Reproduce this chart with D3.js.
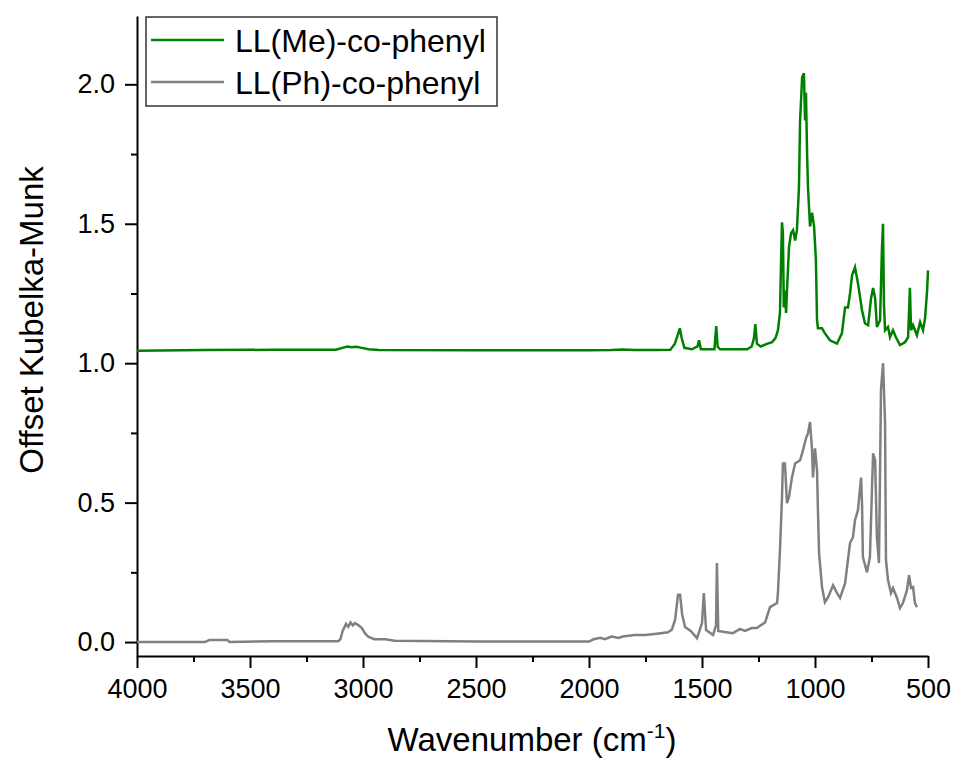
<!DOCTYPE html>
<meta charset="utf-8">
<style>
body { margin: 0; background: #fff; }
svg { font-family: Arial, "Liberation Sans", sans-serif; }
.axis path, .axis line { fill: none; stroke: #000; stroke-width: 2; }
.axis text { font-size: 27px; fill: #000; }
.title { font-size: 33px; fill: #000; }
.legend text { font-size: 32px; fill: #000; }
</style>
<body>
<svg></svg>
<script src="https://d3js.org/d3.v7.min.js"></script>
<script>

// spectrum 1 : LL(Me)-co-phenyl, offset +1.05
var meWave = [4000, 3800, 3700, 3400, 3120, 3095, 3070, 3050, 3030, 3005, 2975, 2930, 2500, 2000, 1900, 1850, 1800, 1700,
  1640, 1620, 1608, 1598, 1590, 1578, 1545, 1520, 1513, 1505, 1445, 1437, 1431, 1420, 1300, 1280, 1270, 1264, 1257, 1240,
  1210, 1190, 1175, 1164, 1155, 1150, 1146, 1142, 1138, 1133, 1128, 1124, 1115, 1106, 1097, 1088, 1080, 1071, 1066, 1057,
  1049, 1044, 1040, 1035, 1031, 1022, 1013, 1004, 996, 991, 987, 969, 956, 934, 903, 881, 867, 854, 845, 836, 823, 810,
  792, 779, 765, 752, 743, 734, 726, 712, 704, 699, 695, 690, 677, 668, 655, 642, 624, 602, 588, 580, 575, 566, 549,
  535, 522, 513, 504, 500];
var meVal = [1.045, 1.046, 1.047, 1.048, 1.048, 1.054, 1.06, 1.057, 1.059, 1.055, 1.05, 1.047, 1.046, 1.046, 1.047, 1.049, 1.047, 1.047,
  1.048, 1.07, 1.10, 1.125, 1.09, 1.055, 1.05, 1.06, 1.082, 1.05, 1.05, 1.133, 1.06, 1.05, 1.05, 1.06, 1.09, 1.14, 1.07, 1.06,
  1.07, 1.075, 1.09, 1.118, 1.18, 1.37, 1.505, 1.466, 1.2, 1.26, 1.18, 1.26, 1.416, 1.466, 1.477, 1.44, 1.477, 1.63, 1.87, 2.025,
  2.04, 1.87, 1.97, 1.75, 1.63, 1.49, 1.54, 1.49, 1.37, 1.154, 1.125, 1.125, 1.107, 1.082, 1.07, 1.107, 1.2, 1.2, 1.25, 1.315, 1.344, 1.287,
  1.19, 1.143, 1.136, 1.233, 1.27, 1.233, 1.13, 1.154, 1.405, 1.5, 1.215, 1.118, 1.13, 1.093, 1.118, 1.093, 1.065, 1.075, 1.093, 1.27, 1.118, 1.136, 1.1,
  1.147, 1.118, 1.161, 1.26, 1.333];

// spectrum 2 : LL(Ph)-co-phenyl
var phWave = [4000, 3700, 3680, 3600, 3590, 3400, 3110, 3100, 3090, 3075, 3065, 3055, 3045, 3035, 3020, 3005, 2990, 2975, 2950,
  2900, 2860, 2500, 2000, 1980, 1950, 1930, 1900, 1870, 1850, 1800, 1750, 1700, 1650, 1633, 1619, 1606, 1597, 1588, 1575,
  1550, 1522, 1500, 1492, 1482, 1451, 1438, 1434, 1428, 1400, 1363, 1332, 1310, 1280, 1257, 1240, 1221, 1199, 1168, 1164,
  1155, 1146, 1142, 1133, 1124, 1115, 1102, 1088, 1066, 1053, 1040, 1031, 1022, 1013, 1009, 1000, 991, 987, 982, 969, 956,
  942, 920, 903, 889, 867, 845, 832, 823, 810, 796, 792, 788, 770, 757, 748, 743, 734, 726, 717, 708, 699, 690, 686, 677,
  664, 655, 637, 624, 611, 593, 584, 575, 566, 558, 549];
var phVal = [0.0, 0.0, 0.007, 0.007, 0.0, 0.003, 0.003, 0.01, 0.04, 0.065, 0.055, 0.07, 0.06, 0.068, 0.06, 0.05, 0.03, 0.018, 0.01,
  0.01, 0.005, 0.002, 0.002, 0.01, 0.015, 0.01, 0.02, 0.015, 0.02, 0.025, 0.025, 0.03, 0.035, 0.045, 0.08, 0.17, 0.17, 0.1, 0.054,
  0.04, 0.014, 0.068, 0.176, 0.043, 0.025, 0.06, 0.283, 0.04, 0.036, 0.032, 0.047, 0.04, 0.05, 0.05, 0.06, 0.07, 0.125, 0.14, 0.176,
  0.33, 0.52, 0.64, 0.64, 0.498, 0.52, 0.59, 0.64, 0.652, 0.688, 0.73, 0.749, 0.789, 0.688, 0.59, 0.695, 0.616, 0.473, 0.319, 0.197, 0.143,
  0.161, 0.204, 0.176, 0.158, 0.21, 0.355, 0.376, 0.437, 0.473, 0.59, 0.498, 0.305, 0.25, 0.305, 0.545, 0.677, 0.652, 0.376, 0.283, 0.903, 1.0, 0.785, 0.294, 0.222,
  0.176, 0.194, 0.158, 0.122, 0.14, 0.186, 0.24, 0.194, 0.197, 0.14, 0.125];

var seriesNames = ["LL(Me)-co-phenyl", "LL(Ph)-co-phenyl"];
var seriesColors = ["#008000", "#808080"];
var xTicks = [4000, 3500, 3000, 2500, 2000, 1500, 1000, 500];
var yTicks = [0.0, 0.5, 1.0, 1.5, 2.0];

var svg = d3.select("svg")
    .attr("width", 953)
    .attr("height", 760);

var x = d3.scaleLinear().domain([4000, 500]).range([137, 928]);
var y = d3.scaleLinear().domain([-0.05, 2.245]).range([656, 16]);

// minor ticks first
svg.append("g")
    .attr("class", "axis")
    .attr("transform", "translate(0,656)")
    .call(d3.axisBottom(x).tickValues(d3.range(3750, 500, -500)).tickSize(6).tickFormat(""))
    .select(".domain").remove();
svg.append("g")
    .attr("class", "axis")
    .attr("transform", "translate(137,0)")
    .call(d3.axisLeft(y).tickValues([0.25, 0.75, 1.25, 1.75]).tickSize(6).tickFormat(""))
    .select(".domain").remove();

svg.append("g")
    .attr("class", "axis")
    .attr("transform", "translate(0,656)")
    .call(d3.axisBottom(x).tickValues(xTicks).tickSize(12).tickSizeOuter(0).tickPadding(11).tickFormat(d3.format("d")));

svg.append("g")
    .attr("class", "axis")
    .attr("transform", "translate(137,0)")
    .call(d3.axisLeft(y).tickValues(yTicks).tickSize(12).tickSizeOuter(0).tickPadding(10).tickFormat(d3.format(".1f")));

var line = d3.line()
    .x(function(d) { return x(d[0]); })
    .y(function(d) { return y(d[1]); });

var data = [d3.zip(meWave, meVal), d3.zip(phWave, phVal)];

svg.selectAll(".spec")
    .data(data)
    .enter().append("path")
    .attr("class", "spec")
    .attr("d", line)
    .attr("fill", "none")
    .attr("stroke", function(d, i) { return seriesColors[i]; })
    .attr("stroke-width", 2.5)
    .attr("stroke-linejoin", "miter");

// axis titles
var xt = svg.append("text")
    .attr("class", "title")
    .attr("x", 532)
    .attr("y", 751)
    .attr("text-anchor", "middle");
xt.append("tspan").text("Wavenumber (cm");
xt.append("tspan").attr("dy", -13).attr("font-size", 21).text("-1");
xt.append("tspan").attr("dy", 13).text(")");

svg.append("text")
    .attr("class", "title")
    .attr("transform", "translate(43,320) rotate(-90)")
    .attr("text-anchor", "middle")
    .text("Offset Kubelka-Munk");

// legend
var legend = svg.append("g").attr("class", "legend");
legend.append("rect")
    .attr("x", 146).attr("y", 17)
    .attr("width", 351).attr("height", 89)
    .attr("fill", "#fff")
    .attr("stroke", "#333")
    .attr("stroke-width", 1.5);

var item = legend.selectAll(".item")
    .data(seriesNames)
    .enter().append("g")
    .attr("transform", function(d, i) { return "translate(0," + (i * 42) + ")"; });

item.append("line")
    .attr("x1", 151).attr("x2", 224)
    .attr("y1", 40).attr("y2", 40)
    .attr("stroke", function(d, i) { return seriesColors[i]; })
    .attr("stroke-width", 2.5);

item.append("text")
    .attr("x", 235)
    .attr("y", 52)
    .text(function(d) { return d; });

</script>
